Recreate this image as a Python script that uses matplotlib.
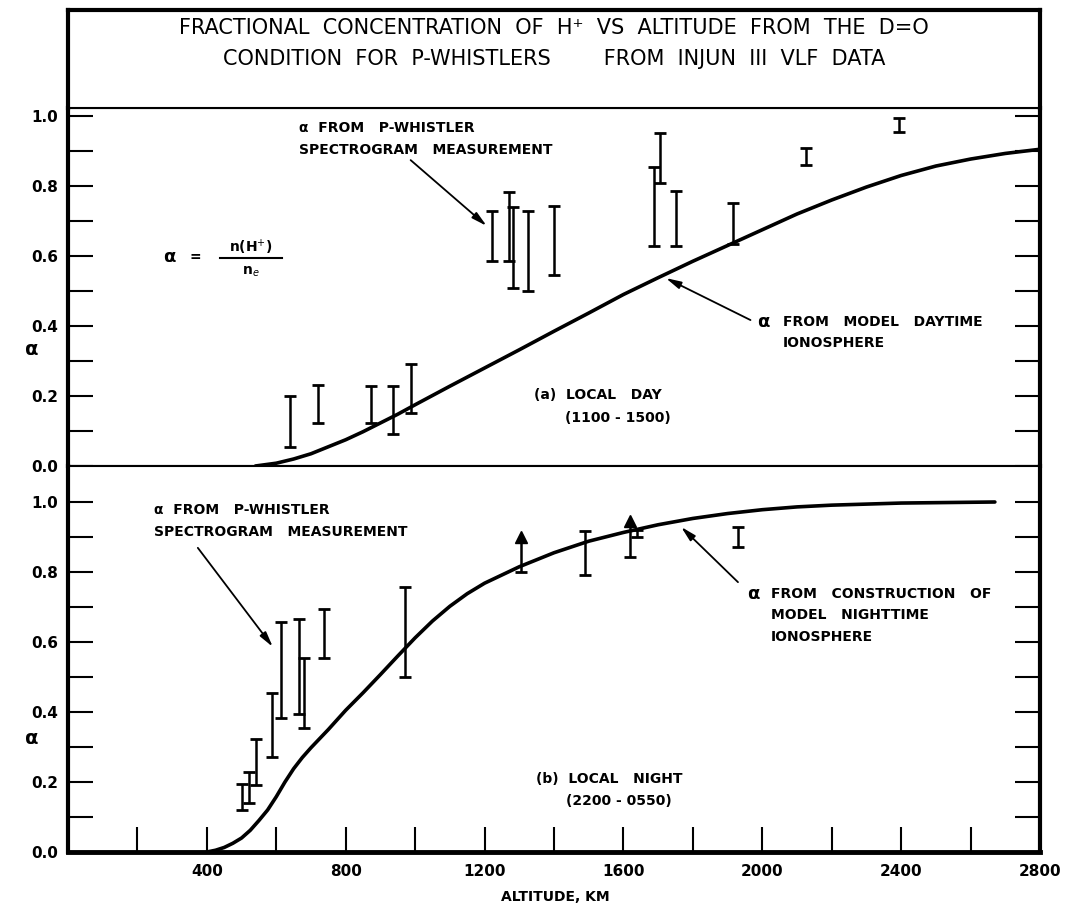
import matplotlib.pyplot as plt

# model curve, daytime (altitude km, alpha)
day_alt = [540, 600, 650, 700, 750, 800, 850, 900, 950, 1000, 1100, 1200, 1300, 1400, 1500, 1600,
           1700, 1800, 1900, 2000, 2100, 2200, 2300, 2400, 2500, 2600, 2700, 2800]
day_alpha = [0.0, 0.008, 0.02, 0.035, 0.055, 0.075, 0.098, 0.123, 0.148, 0.175, 0.228, 0.28, 0.332,
             0.385, 0.437, 0.49, 0.538, 0.585, 0.63, 0.675, 0.72, 0.76, 0.797, 0.83, 0.857, 0.877,
             0.893, 0.905]

# p-whistler measurements, daytime
day_x = [640, 719, 872, 935, 987, 1220, 1269, 1281, 1324, 1401, 1687, 1705, 1752, 1917, 2127, 2395]
day_lo = [0.055, 0.123, 0.123, 0.092, 0.151, 0.586, 0.586, 0.509, 0.50, 0.546, 0.628, 0.808, 0.628, 0.634, 0.86, 0.955]
day_hi = [0.20, 0.231, 0.229, 0.228, 0.291, 0.729, 0.783, 0.74, 0.729, 0.743, 0.855, 0.951, 0.786, 0.75, 0.909, 0.994]

# model curve, nighttime
night_alt = [400, 425, 450, 475, 500, 525, 550, 575, 600, 625, 650, 675, 700, 750, 800, 850, 900,
             950, 1000, 1050, 1100, 1150, 1200, 1300, 1400, 1500, 1600, 1700, 1800, 1900, 2000,
             2100, 2200, 2400, 2670]
night_alpha = [0.0, 0.005, 0.013, 0.025, 0.04, 0.062, 0.09, 0.12, 0.158, 0.2, 0.238, 0.27, 0.298,
               0.35, 0.405, 0.455, 0.507, 0.56, 0.612, 0.66, 0.702, 0.738, 0.768, 0.815, 0.855,
               0.888, 0.913, 0.935, 0.953, 0.967, 0.978, 0.986, 0.991, 0.997, 1.0]

# measurements, nighttime
night_x = [501, 521, 541, 587, 613, 665, 679, 737, 970, 1488, 1640, 1931]
night_lo = [0.12, 0.14, 0.191, 0.271, 0.383, 0.394, 0.354, 0.554, 0.50, 0.791, 0.90, 0.871]
night_hi = [0.194, 0.229, 0.323, 0.454, 0.657, 0.666, 0.554, 0.694, 0.757, 0.917, 0.92, 0.929]
# lower limits (arrow on top)
lim_x = [1306, 1620]
lim_lo = [0.80, 0.843]
lim_hi = [0.90, 0.946]

yticks = [i / 10 for i in range(11)]
ylabels = ['%.1f' % v if i % 2 == 0 else '' for i, v in enumerate(yticks)]
xticks = list(range(200, 2801, 200))
xlabels = [str(v) if v % 400 == 0 else '' for v in xticks]

plt.rcParams['font.family'] = 'DejaVu Sans'
fs = 10
bold = dict(fontsize=fs, fontweight='bold')

fig = plt.figure(figsize=(10.66, 9.09), dpi=100)
L, W = 68 / 1066, (1040 - 68) / 1066
ax_t = fig.add_axes([L, 1 - 466 / 909, W, (466 - 108) / 909])
ax_b = fig.add_axes([L, 1 - 852 / 909, W, (852 - 466) / 909])
ax_h = fig.add_axes([L, 1 - 108 / 909, W, (108 - 10) / 909])


def frame(ax, top):
    ax.set_xlim(0, 2800)
    ax.set_ylim(0, top)
    ax.set_yticks(yticks)
    ax.set_yticklabels(ylabels, fontsize=11, fontweight='bold')
    ax.tick_params(axis='y', direction='in', length=18, width=1.5, right=True, pad=7)
    for s in ['left', 'right']:
        ax.spines[s].set_linewidth(3)
    ax.spines['top'].set_linewidth(1.5)
    ax.spines['bottom'].set_linewidth(1.5)


# ---- top panel (day)
frame(ax_t, 358 / 350)
ax_t.set_xticks([])
ax_t.plot(day_alt, day_alpha, color='k', lw=2.6, solid_capstyle='round', solid_joinstyle='round')
ax_t.vlines(day_x, day_lo, day_hi, color='k', lw=1.8)
ax_t.plot(day_x, day_lo, ls='none', marker='_', ms=9, mew=2, color='k')
ax_t.plot(day_x, day_hi, ls='none', marker='_', ms=9, mew=2, color='k')

ax_t.text(665, 0.966, 'α  FROM   P-WHISTLER', va='center', **bold)
ax_t.text(665, 0.903, 'SPECTROGRAM   MEASUREMENT', va='center', **bold)
arr = dict(arrowstyle='-|>,head_width=0.22,head_length=0.9', lw=1.3, color='k', shrinkA=0, shrinkB=0)
ax_t.annotate('', xy=(1206, 0.686), xytext=(987, 0.874), arrowprops=arr)

ax_t.text(273, 0.597, 'α', va='center', fontsize=13, fontweight='bold')
ax_t.text(351, 0.597, '=', va='center', **bold)
ax_t.plot([438, 616], [0.594, 0.594], color='k', lw=1.5)
ax_t.text(527, 0.625, 'n(H$^{+}$)', ha='center', va='center', **bold)
ax_t.text(527, 0.554, 'n$_e$', ha='center', va='center', **bold)

ax_t.text(1986, 0.411, 'α', va='center', fontsize=13, fontweight='bold')
ax_t.text(2060, 0.411, 'FROM   MODEL   DAYTIME', va='center', **bold)
ax_t.text(2060, 0.351, 'IONOSPHERE', va='center', **bold)
ax_t.annotate('', xy=(1722, 0.537), xytext=(1966, 0.417), arrowprops=arr)

ax_t.text(1341, 0.203, '(a)  LOCAL   DAY', va='center', **bold)
ax_t.text(1433, 0.137, '(1100 - 1500)', va='center', **bold)

# ---- bottom panel (night)
frame(ax_b, 386 / 350)
ax_b.spines['bottom'].set_linewidth(3.5)
ax_b.set_xticks(xticks)
ax_b.set_xticklabels(xlabels, fontsize=11, fontweight='bold')
ax_b.tick_params(axis='x', direction='in', length=18, width=1.5, pad=9)
ax_b.plot(night_alt, night_alpha, color='k', lw=2.6, solid_capstyle='round', solid_joinstyle='round')
ax_b.vlines(night_x, night_lo, night_hi, color='k', lw=1.8)
ax_b.plot(night_x, night_lo, ls='none', marker='_', ms=9, mew=2, color='k')
ax_b.plot(night_x, night_hi, ls='none', marker='_', ms=9, mew=2, color='k')
ax_b.vlines(lim_x, lim_lo, lim_hi, color='k', lw=1.8)
ax_b.plot(lim_x, lim_lo, ls='none', marker='_', ms=9, mew=2, color='k')
ax_b.plot(lim_x, lim_hi, ls='none', marker='^', ms=8, color='k')

ax_b.text(248, 0.977, 'α  FROM   P-WHISTLER', va='center', **bold)
ax_b.text(248, 0.914, 'SPECTROGRAM   MEASUREMENT', va='center', **bold)
ax_b.annotate('', xy=(590, 0.586), xytext=(374, 0.869), arrowprops=arr)

ax_b.text(1955, 0.737, 'α', va='center', fontsize=13, fontweight='bold')
ax_b.text(2025, 0.737, 'FROM   CONSTRUCTION   OF', va='center', **bold)
ax_b.text(2025, 0.677, 'MODEL   NIGHTTIME', va='center', **bold)
ax_b.text(2025, 0.614, 'IONOSPHERE', va='center', **bold)
ax_b.annotate('', xy=(1766, 0.929), xytext=(1930, 0.771), arrowprops=arr)

ax_b.text(1348, 0.209, '(b)  LOCAL   NIGHT', va='center', **bold)
ax_b.text(1435, 0.146, '(2200 - 0550)', va='center', **bold)

# ---- title box
ax_h.set_xticks([])
ax_h.set_yticks([])
for s in ['left', 'right', 'top']:
    ax_h.spines[s].set_linewidth(3)
ax_h.spines['bottom'].set_linewidth(1.5)
ax_h.text(0.5, 0.82, 'FRACTIONAL  CONCENTRATION  OF  H⁺  VS  ALTITUDE  FROM  THE  D=O',
          transform=ax_h.transAxes, ha='center', va='center', fontsize=15)
ax_h.text(0.5, 0.5, 'CONDITION  FOR  P-WHISTLERS        FROM  INJUN  III  VLF  DATA',
          transform=ax_h.transAxes, ha='center', va='center', fontsize=15)

fig.text(32 / 1066, 1 - 350 / 909, 'α', ha='center', va='center', fontsize=14, fontweight='bold')
fig.text(32 / 1066, 1 - 738 / 909, 'α', ha='center', va='center', fontsize=14, fontweight='bold')
fig.text(555 / 1066, 1 - 897 / 909, 'ALTITUDE, KM', ha='center', va='center', **bold)

fig.savefig('out.png', dpi=100)
